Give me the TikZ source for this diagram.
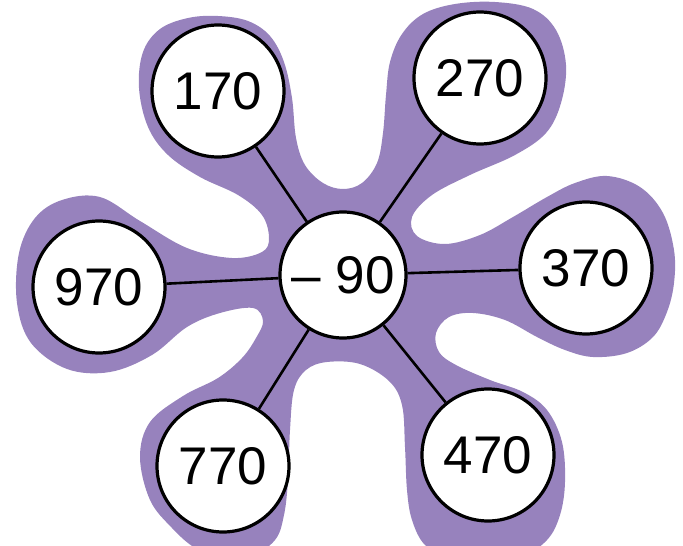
\documentclass[tikz,border=0pt]{standalone}
\usepackage{fontspec}
\setmainfont{Liberation Sans}
\definecolor{blobpurple}{RGB}{151,130,189}

\begin{document}
\begin{tikzpicture}[x=1pt, y=-1pt,
    bubble/.style={circle, draw=black, line width=3.2pt, fill=white, minimum size=132pt, inner sep=0pt, font=\fontsize{53}{60}\selectfont},
    spoke/.style={line width=2.6pt, black}]
    % Fix the frame of the picture
    \useasboundingbox (0,0) rectangle (683,546);

    % Draw the purple blob behind the circles
    \begin{scope}
    \clip (0,0) rectangle (683,546);
    \fill[blobpurple] plot[smooth cycle, tension=0.6] coordinates {
        (100,197) (140,221) (187,248) (232,258) (262,252) (269,238) (262,215)
        (238,195) (200,177) (168,155) (148,127) (139,88) (143,52) (160,29)
        (188,18) (218,16) (248,21) (270,36) (284,62) (292,98) (296,138)
        (305,165) (323,183) (343,189) (362,183) (377,163) (383,133) (386,95)
        (390,62) (402,34) (423,14) (455,4) (495,2) (533,9) (556,30) (566,65)
        (561,103) (546,133) (515,155) (470,175) (432,195) (412,217) (417,236)
        (445,244) (480,235) (513,217) (547,197) (575,183) (607,176) (640,187)
        (663,213) (674,250) (674,283) (667,312) (653,337) (627,353) (593,357)
        (565,350) (537,337) (505,320) (473,313) (449,317) (436,333) (439,352)
        (456,365) (490,380) (523,392) (547,410) (562,442) (565,482) (560,515)
        (547,540) (520,558) (485,563) (450,558) (425,545) (412,520) (407,490)
        (405,447) (402,405) (389,381) (360,364) (327,362) (306,370) (294,390)
        (290,430) (288,480) (284,515) (275,540) (250,557) (220,558) (195,548)
        (172,528) (150,500) (140,457) (150,422) (183,396) (218,378) (242,358)
        (256,338) (263,321) (253,308) (220,313) (187,327) (152,355) (110,372)
        (67,369) (31,343) (17,303) (19,253) (35,218) (62,200)};
    \end{scope}

    % Place the circles
    \node[bubble, minimum size=126pt] (hub) at (343,275) {– 90};
    \node[bubble] (n170) at (218,91) {170};
    \node[bubble] (n270) at (480,78) {270};
    \node[bubble] (n370) at (586,268) {370};
    \node[bubble] (n470) at (488,455) {470};
    \node[bubble] (n770) at (223,466) {770};
    \node[bubble] (n970) at (99,287) {970};

    % Draw the spokes
    \draw[spoke] (hub) -- (n170);
    \draw[spoke] (hub) -- (n270);
    \draw[spoke] (hub) -- (n370);
    \draw[spoke] (hub) -- (n470);
    \draw[spoke] (hub) -- (n770);
    \draw[spoke] (hub) -- (n970);
\end{tikzpicture}
\end{document}
